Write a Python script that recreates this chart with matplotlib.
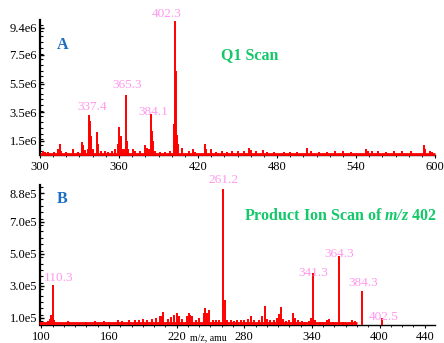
import numpy as np
import matplotlib
matplotlib.use('Agg')
import matplotlib.pyplot as plt
from matplotlib.ticker import FixedLocator, MultipleLocator

plt.rcParams['font.family'] = ['Liberation Serif', 'DejaVu Serif']
plt.rcParams['mathtext.fontset'] = 'custom'
plt.rcParams['mathtext.rm'] = 'Liberation Serif:bold'
plt.rcParams['mathtext.it'] = 'Liberation Serif:italic:bold'
plt.rcParams['mathtext.bfit'] = 'Liberation Serif:italic:bold'

# panel A: Q1 scan (m/z, intensity in 1e6)
mz_a = [302, 304, 306, 311, 314, 315, 316, 320, 325, 329, 332, 333, 334, 336.5,
        337.4, 338, 338.6, 340, 343.5, 344.2, 346, 349, 352, 355, 357, 359.5,
        360.3, 361.2, 362, 364, 365.3, 366.3, 367, 371, 372, 376, 380, 381, 383,
        384.1, 385, 385.7, 387, 391, 395, 399, 401.6, 402.3, 403.2, 404.2, 405,
        408, 413, 416.5, 418, 425, 426, 430, 434, 438, 442, 446, 450, 455, 459,
        460, 464, 469, 472, 478, 485, 490, 495, 502.6, 506, 512, 518, 524, 530,
        536, 547.5, 549, 552, 557, 563, 569, 575, 582, 591.7, 592.5, 596, 598]
int_a = [0.75, 0.7, 0.7, 0.7, 0.9, 1.25, 0.8, 0.7, 0.9, 0.7, 1.4, 1.2, 0.85, 0.9,
         3.3, 2.9, 1.8, 0.9, 2.1, 1.3, 0.8, 0.75, 0.7, 0.8, 0.9, 1.3,
         2.45, 1.8, 0.9, 0.9, 4.7, 1.5, 0.9, 0.9, 0.8, 0.75, 1.2, 1.0, 0.9,
         3.4, 2.2, 1.5, 0.8, 0.7, 0.7, 0.8, 2.7, 9.9, 6.4, 1.9, 1.3,
         1.0, 0.8, 0.95, 0.7, 1.3, 0.9, 0.95, 0.7, 0.75, 0.7, 0.8, 0.75, 0.75, 1.0,
         0.85, 0.8, 0.85, 0.7, 0.7, 0.7, 0.7, 0.7, 1.0, 0.75, 0.7, 0.7, 0.75, 0.75,
         0.7, 0.95, 0.8, 0.75, 0.75, 0.7, 0.75, 0.75, 0.75, 1.2, 0.9, 0.8, 0.7]
labels_a = [337.4, 365.3, 384.1, 402.3]
floor_a = [300, 600, 0.58]
yticks_a = [1.5, 3.5, 5.5, 7.5, 9.4]
xticks_a = [300, 360, 420, 480, 540, 600]

# panel B: product ion scan of m/z 402 (intensity in 1e5)
mz_b = [100, 106, 108, 109, 110.3, 111, 115, 124, 125, 133, 140, 148, 156, 160,
        168, 172, 178, 183, 187, 190, 194, 198, 202, 205, 207, 208, 212, 215, 218,
        220, 222, 225, 229, 231, 232, 234, 237, 240, 244, 245.5, 247, 249, 252,
        255, 258, 261.2, 263, 265, 268, 271, 274, 277, 280, 283, 286, 289, 293,
        296, 298, 300, 303, 306, 309, 311, 312.5, 314, 317, 320, 323.5, 325, 328,
        331, 334, 337, 339, 341.3, 343, 347, 350, 353, 355, 359, 364.3, 368, 371,
        376, 378, 384.3, 402.5]
int_b = [0.75, 0.8, 0.95, 1.2, 3.06, 0.9, 0.7, 0.8, 0.75, 0.7, 0.75, 0.8, 0.8, 0.75,
         0.85, 0.8, 0.85, 0.9, 0.85, 0.95, 0.9, 0.95, 1.0, 1.15, 1.1, 1.35, 0.95, 1.05, 1.2,
         1.3, 1.1, 0.95, 1.15, 1.3, 1.2, 1.1, 0.9, 1.0, 1.3, 1.65, 1.3, 1.5, 0.9,
         0.9, 0.85, 9.06, 2.1, 0.9, 0.85, 0.8, 0.9, 0.85, 0.85, 0.95, 1.1, 0.85, 0.9,
         1.1, 1.75, 0.95, 0.85, 0.9, 1.0, 1.25, 1.7, 0.95, 0.8, 0.85, 1.3, 1.0, 0.85,
         0.8, 0.75, 0.8, 1.0, 3.8, 0.9, 0.75, 0.75, 0.9, 0.95, 0.75, 4.9, 0.75, 0.7,
         0.9, 0.8, 2.7, 1.0]
labels_b = [110.3, 261.2, 341.3, 364.3, 384.3, 402.5]
floor_b = [98, 380, 0.66]
yticks_b = [1.0, 3.0, 5.0, 7.0, 8.8]
xticks_b = [100, 160, 220, 280, 340, 400, 440]

RED = '#ff0000'
PINK = '#ff99ee'
BLUE = '#1b6ec2'
GREEN = '#14c86a'

fig = plt.figure(figsize=(4.44, 3.43), dpi=100)
ax1 = fig.add_axes([0.090, 0.548, 0.890, 0.394])
ax2 = fig.add_axes([0.090, 0.0525, 0.890, 0.408])


def draw(ax, mz, inten, scale, floor, label_mz, offsets, xlim, ylim, xt, yt, suffix):
    mz = np.array(mz)
    inten = np.array(inten) * scale
    ax.vlines(mz, 0, inten, color=RED, lw=1.4, zorder=3)
    ax.hlines(floor[2] * scale, floor[0], floor[1], color=RED, lw=2.0, zorder=4,
              clip_on=False)
    for m, (dx, dy) in zip(label_mz, offsets):
        h = inten[np.argmin(np.abs(mz - m))]
        ax.annotate(f'{m:.1f}', (m, h), xytext=(dx, dy), textcoords='offset pixels',
                    ha='center', va='center', color=PINK, fontsize=9.5)
    ax.set_xlim(*xlim)
    ax.set_ylim(ylim[0] * scale, ylim[1] * scale)
    for s in ['top', 'right']:
        ax.spines[s].set_visible(False)
    ax.spines['left'].set_linewidth(1.6)
    ax.spines['bottom'].set_linewidth(1.0)
    ax.xaxis.set_major_locator(FixedLocator(xt))
    ax.xaxis.set_minor_locator(MultipleLocator(10))
    ax.set_xticklabels([str(v) for v in xt])
    ax.yaxis.set_major_locator(FixedLocator([v * scale for v in yt]))
    ax.yaxis.set_minor_locator(MultipleLocator(0.4 * scale))
    ax.set_yticklabels([f'{v:.1f}{suffix}' for v in yt])
    ax.tick_params(axis='y', direction='in', length=3, width=1, labelsize=9, pad=2)
    ax.tick_params(axis='y', which='minor', direction='in', length=2, width=0.8)
    ax.tick_params(axis='x', direction='out', length=2.5, width=0.8, labelsize=9, pad=2)
    ax.tick_params(axis='x', which='minor', direction='out', length=1.5, width=0.6)


draw(ax1, mz_a, int_a, 1e6, floor_a, labels_a,
     [(3, 8), (1, 10), (3, 2), (-8, 7)],
     (300, 600), (0.5, 9.95), xticks_a, yticks_a, 'e6')
draw(ax2, mz_b, int_b, 1e5, floor_b, labels_b,
     [(6, 7), (0, 9), (0, 0), (0, 1.5), (1, 7.5), (1, 0.5)],
     (98.8, 449.3), (0.56, 9.3), xticks_b, yticks_b, 'e5')

ax1.text(0.058, 0.815, 'A', transform=ax1.transAxes, color=BLUE, fontsize=11.5,
         fontweight='bold', ha='center', va='center')
ax1.text(0.53, 0.74, 'Q1 Scan', transform=ax1.transAxes, color=GREEN, fontsize=11.5,
         fontweight='bold', ha='center', va='center')
ax2.text(0.056, 0.9, 'B', transform=ax2.transAxes, color=BLUE, fontsize=11.5,
         fontweight='bold', ha='center', va='center')
ax2.text(1.005, 0.78, r'Product Ion Scan of $\mathbfit{m/z}$ 402', transform=ax2.transAxes,
         color=GREEN, fontsize=11.5, fontweight='bold', ha='right', va='center')
fig.text(208 / 444, 1 - 338 / 343, 'm/z, amu', fontsize=7, ha='center', va='center')

fig.savefig('out.png', dpi=100)
